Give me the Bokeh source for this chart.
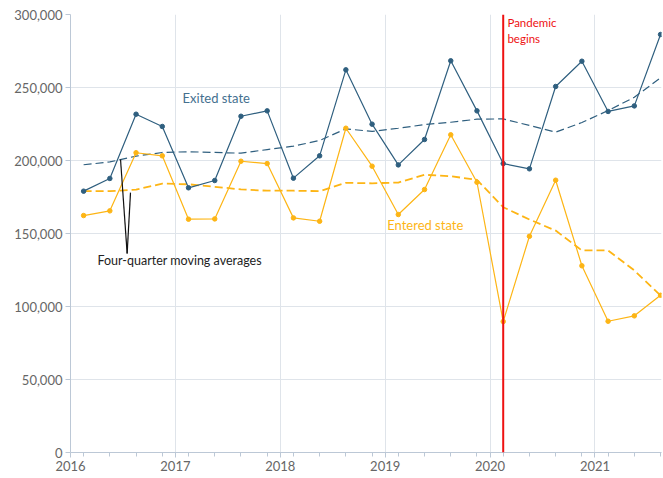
from bokeh.plotting import figure
from bokeh.models import (Range1d, FixedTicker, NumeralTickFormatter, Label, Arrow, Span, ColumnDataSource)
from bokeh.embed import file_html
from bokeh.resources import INLINE

# Quarterly data, 2016 Q1 .. 2021 Q3 (plotted at mid-quarter)
years = [2016, 2017, 2018, 2019, 2020, 2021]
quarter_labels = ["2016Q1","2016Q2","2016Q3","2016Q4","2017Q1","2017Q2","2017Q3","2017Q4",
                  "2018Q1","2018Q2","2018Q3","2018Q4","2019Q1","2019Q2","2019Q3","2019Q4",
                  "2020Q1","2020Q2","2020Q3","2020Q4","2021Q1","2021Q2","2021Q3"]
exited = [179000, 187700, 231700, 223300, 181300, 186300, 230300, 234000,
          187900, 203200, 262100, 224900, 197000, 214400, 268300, 234000,
          197900, 194300, 250700, 268000, 233600, 237400, 286300]
exited_ma = [197100, 199000, 203000, 205500, 206000, 205500, 205000, 207500,
             209800, 213700, 221700, 219900, 222100, 224600, 226200, 228300,
             228500, 224000, 219400, 226000, 234200, 243300, 256600]
entered = [162300, 165500, 205300, 203200, 159800, 160000, 199500, 197900,
           160700, 158400, 222100, 196100, 163000, 180100, 217600, 185100,
           89700, 148100, 186500, 127900, 89900, 93600, 107700]
entered_ma = [179000, 179000, 180000, 184200, 183700, 182000, 180200, 179300,
              179300, 179000, 184700, 184400, 184900, 190200, 189200, 186800,
              168000, 159600, 152000, 138400, 138400, 124700, 107500]
pandemic_quarter = "2020Q1"


def qpos(label):
    y, q = int(label[:4]), int(label[5])
    return y + (q - 1) * 0.25 + 0.125


xs = [qpos(q) for q in quarter_labels]
src = ColumnDataSource(dict(x=xs, exited=exited, exited_ma=exited_ma,
                            entered=entered, entered_ma=entered_ma))

BLUE = "#2f5f7f"
BLUE_TXT = "#44708f"
ORANGE = "#fdb515"
RED = "#ee1111"
GRID = "#dfe4ea"
AXIS = "#bcc8d6"
FONT = "Lato"

p = figure(frame_width=591, frame_height=438, output_backend="svg", toolbar_location=None,
           x_range=Range1d(2016, 2021.634), y_range=Range1d(0, 300000),
           min_border_left=70, min_border_right=2, min_border_top=14, min_border_bottom=20)
p.outline_line_color = None
p.background_fill_color = "white"
p.border_fill_color = "white"

# axes
p.xaxis.ticker = FixedTicker(ticks=years, minor_ticks=xs)
p.yaxis.ticker = FixedTicker(ticks=[0, 50000, 100000, 150000, 200000, 250000, 300000])
p.yaxis.formatter = NumeralTickFormatter(format="0,0")
for ax in (p.xaxis[0], p.yaxis[0]):
    ax.axis_line_color = AXIS
    ax.major_tick_line_color = AXIS
    ax.minor_tick_line_color = AXIS
    ax.major_tick_in = 0
    ax.major_tick_out = 5
    ax.minor_tick_in = 0
    ax.minor_tick_out = 4
    ax.major_label_text_color = "#666666"
    ax.major_label_text_font = FONT
    ax.major_label_text_font_size = "13px"
    ax.major_label_standoff = 3
p.yaxis.minor_tick_line_color = None
p.xgrid.ticker = FixedTicker(ticks=years)
p.xgrid.grid_line_color = GRID
p.ygrid.grid_line_color = GRID

# moving averages
p.line("x", "exited_ma", source=src, color=BLUE, line_width=1.2, line_dash="8 4")
p.line("x", "entered_ma", source=src, color=ORANGE, line_width=1.8, line_dash="8 4")

# series
p.line("x", "exited", source=src, color=BLUE, line_width=1.2)
p.scatter("x", "exited", source=src, color=BLUE, size=4.5)
p.line("x", "entered", source=src, color=ORANGE, line_width=1.2)
p.scatter("x", "entered", source=src, color=ORANGE, size=4.5)

# pandemic marker
px = qpos(pandemic_quarter)
p.add_layout(Span(location=px, dimension="height", line_color=RED, line_width=2))
p.add_layout(Label(x=px + 0.04, y=299000, text="Pandemic\nbegins", text_color=RED,
                   text_font=FONT, text_font_size="11.5px", text_baseline="top"))

# labels
p.add_layout(Label(x=2017.068, y=242500, text="Exited state", text_color=BLUE_TXT,
                   text_font=FONT, text_font_size="13px", text_baseline="middle"))
p.add_layout(Label(x=2019.019, y=156000, text="Entered state", text_color=ORANGE,
                   text_font=FONT, text_font_size="13px", text_baseline="middle"))
p.add_layout(Label(x=2016.257, y=131500, text="Four-quarter moving averages", text_color="#222222",
                   text_font=FONT, text_font_size="12.5px", text_baseline="middle"))
p.add_layout(Arrow(x_start=2016.540, y_start=136300, x_end=2016.477, y_end=200700,
                   end=None, line_color="#111111", line_width=1.2))
p.add_layout(Arrow(x_start=2016.540, y_start=136300, x_end=2016.572, y_end=178000,
                   end=None, line_color="#111111", line_width=1.2))

open("out.html", "w").write(file_html(p, INLINE))
